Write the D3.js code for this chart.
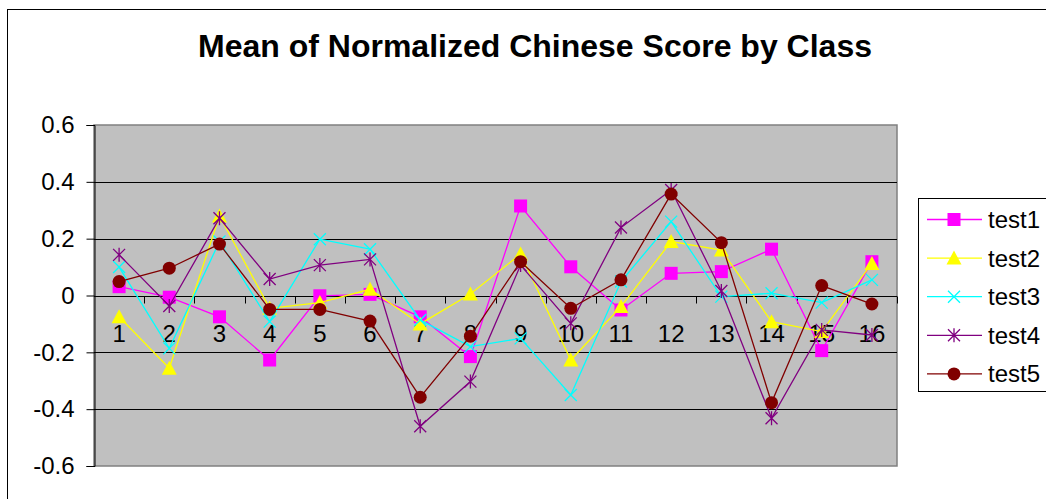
<!DOCTYPE html>
<html>
<head>
<meta charset="utf-8">
<script src="https://cdn.jsdelivr.net/npm/d3@7"></script>
<style>
  body { margin: 0; background: #fff; }
  text { font-family: Arial, "Liberation Sans", sans-serif; }
</style>
</head>
<body>
<div id="chart"></div>
<script>
const classes = ["1","2","3","4","5","6","7","8","9","10","11","12","13","14","15","16"];
const seriesNames = ["test1","test2","test3","test4","test5"];
const test1 = [0.031,-0.006,-0.075,-0.227,-0.001,0.004,-0.075,-0.215,0.315,0.101,-0.051,0.078,0.084,0.163,-0.194,0.119];
const test2 = [-0.075,-0.256,0.28,-0.045,-0.025,0.022,-0.10,0.005,0.146,-0.227,-0.039,0.19,0.16,-0.092,-0.127,0.113];
const test3 = [0.10,-0.186,0.19,-0.092,0.198,0.163,-0.086,-0.18,-0.151,-0.35,0.049,0.26,-0.004,0.008,-0.025,0.055];
const test4 = [0.143,-0.037,0.272,0.058,0.107,0.127,-0.46,-0.303,0.107,-0.098,0.239,0.371,0.016,-0.432,-0.121,-0.139];
const test5 = [0.049,0.096,0.181,-0.049,-0.049,-0.09,-0.358,-0.143,0.119,-0.045,0.055,0.357,0.186,-0.377,0.035,-0.03];
const yTicks = [0.6,0.4,0.2,0,-0.2,-0.4,-0.6];

const colours = ["#ff00ff","#ffff00","#00ffff","#800080","#800000"];
const shapes = ["square","triangle","x","star","circle"];
const seriesData = [test1,test2,test3,test4,test5];

const width = 1046, height = 499;
const plot = { left: 94, top: 125, right: 897, bottom: 466 };

const svg = d3.select("#chart").append("svg")
    .attr("width", width)
    .attr("height", height);

// outer chart border
svg.append("rect")
    .attr("x", 7.5).attr("y", 9.5)
    .attr("width", 1100).attr("height", 600)
    .attr("fill", "#fff").attr("stroke", "#000");

svg.append("text")
    .attr("x", 535).attr("y", 57)
    .attr("text-anchor", "middle")
    .style("font-size", "32px")
    .style("font-weight", "bold")
    .text("Mean of Normalized Chinese Score by Class");

const x = d3.scaleBand().domain(classes).range([plot.left, plot.right]);
const y = d3.scaleLinear().domain([-0.6, 0.6]).range([plot.bottom, plot.top]);

// plot area
svg.append("rect")
    .attr("x", plot.left).attr("y", plot.top)
    .attr("width", plot.right - plot.left).attr("height", plot.bottom - plot.top)
    .attr("fill", "#c0c0c0").attr("stroke", "#808080").attr("stroke-width", 1.5);

svg.selectAll(".grid")
    .data(yTicks.filter(d => d !== 0.6 && d !== -0.6 && d !== 0))
    .enter().append("line")
    .attr("x1", plot.left).attr("x2", plot.right)
    .attr("y1", d => Math.round(y(d)) + 0.5).attr("y2", d => Math.round(y(d)) + 0.5)
    .attr("stroke", "#000");

// y axis (plain hyphen for negatives, like the original)
const yAxis = svg.append("g")
    .attr("transform", `translate(${plot.left + 0.5},0)`)
    .call(d3.axisLeft(y).tickValues(yTicks).tickSize(8).tickPadding(12).tickFormat(d => d === 0 ? "0" : d.toFixed(1)));
yAxis.select(".domain").attr("stroke", "#000");
yAxis.selectAll("text").style("font-size", "24px").attr("fill", "#000");

// x axis at zero, ticks between categories
const zeroY = Math.round(y(0)) + 0.5;
svg.append("line")
    .attr("x1", plot.left).attr("x2", plot.right)
    .attr("y1", zeroY).attr("y2", zeroY)
    .attr("stroke", "#000");
svg.selectAll(".xtick")
    .data(classes.slice(1).concat(["end"]))
    .enter().append("line")
    .attr("x1", (d, i) => Math.round(plot.left + x.step() * (i + 1)) + 0.5)
    .attr("x2", (d, i) => Math.round(plot.left + x.step() * (i + 1)) + 0.5)
    .attr("y1", zeroY).attr("y2", zeroY + 7)
    .attr("stroke", "#000");
svg.selectAll(".xlabel")
    .data(classes)
    .enter().append("text")
    .attr("x", d => x(d) + x.bandwidth() / 2)
    .attr("y", 342)
    .attr("text-anchor", "middle")
    .style("font-size", "24px")
    .text(d => d);

function drawMarker(g, shape, colour, cx, cy) {
    if (shape === "square") {
        g.append("rect").attr("x", cx - 6.5).attr("y", cy - 6.5).attr("width", 13).attr("height", 13).attr("fill", colour);
    } else if (shape === "triangle") {
        g.append("path").attr("d", `M${cx},${cy - 7.5}L${cx + 7.5},${cy + 6.5}L${cx - 7.5},${cy + 6.5}Z`).attr("fill", colour);
    } else if (shape === "circle") {
        g.append("circle").attr("cx", cx).attr("cy", cy).attr("r", 6.5).attr("fill", colour);
    } else if (shape === "x") {
        g.append("path").attr("d", `M${cx - 6},${cy - 6}L${cx + 6},${cy + 6}M${cx - 6},${cy + 6}L${cx + 6},${cy - 6}`)
            .attr("stroke", colour).attr("stroke-width", 1.3);
    } else if (shape === "star") {
        g.append("path").attr("d", `M${cx - 6},${cy - 6}L${cx + 6},${cy + 6}M${cx - 6},${cy + 6}L${cx + 6},${cy - 6}M${cx},${cy - 7}L${cx},${cy + 7}`)
            .attr("stroke", colour).attr("stroke-width", 1.3);
    }
}

const line = d3.line()
    .x((d, i) => x(classes[i]) + x.bandwidth() / 2)
    .y(d => y(d));

seriesData.forEach((vals, s) => {
    const g = svg.append("g");
    g.append("path")
        .attr("d", line(vals))
        .attr("fill", "none")
        .attr("stroke", colours[s])
        .attr("stroke-width", 1.3);
    vals.forEach((v, i) => drawMarker(g, shapes[s], colours[s], x(classes[i]) + x.bandwidth() / 2, y(v)));
});

// legend
const legend = svg.append("g");
legend.append("rect")
    .attr("x", 918.5).attr("y", 198.5)
    .attr("width", 200).attr("height", 193)
    .attr("fill", "#fff").attr("stroke", "#000");
seriesNames.forEach((name, i) => {
    const ly = 219.5 + i * 38.6;
    legend.append("line")
        .attr("x1", 927).attr("x2", 982)
        .attr("y1", ly).attr("y2", ly)
        .attr("stroke", colours[i]).attr("stroke-width", 1.3);
    drawMarker(legend, shapes[i], colours[i], 954, ly);
    legend.append("text")
        .attr("x", 988).attr("y", ly + 8.5)
        .style("font-size", "24px")
        .text(name);
});
</script>
</body>
</html>
